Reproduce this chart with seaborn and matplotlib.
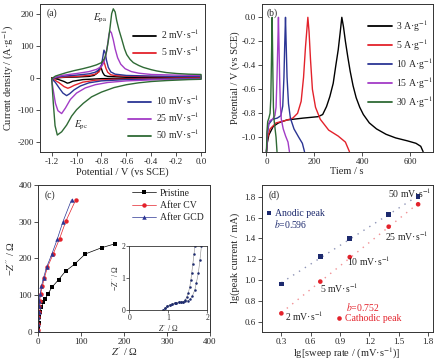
import numpy as np
import pandas as pd
import matplotlib
matplotlib.use("Agg")
import matplotlib.pyplot as plt
import seaborn as sns
from matplotlib.lines import Line2D

sns.set_style("ticks")
plt.rcParams['font.family'] = ['Liberation Serif', 'DejaVu Serif']
plt.rcParams['mathtext.fontset'] = 'stix'
plt.rcParams['axes.linewidth'] = 0.7
plt.rcParams['axes.edgecolor'] = '#333333'

# ---------------- (a) CV data ----------------
cv_rates = ["2 mV·s$^{-1}$", "5 mV·s$^{-1}$", "10 mV·s$^{-1}$", "25 mV·s$^{-1}$", "50 mV·s$^{-1}$"]
cv2_e = [-1.2, -1.1, -1.0, -0.9, -0.86, -0.835, -0.82, -0.81, -0.8, -0.79, -0.775, -0.75, -0.6, -0.3, 0.0,
         0.0, -0.5, -0.8, -0.95, -1.03, -1.06, -1.075, -1.1, -1.15, -1.2]
cv2_i = [-1, 1, 2, 4, 7, 14, 24, 32, 28, 16, 7, 4, 2, 2, 2,
         -1, -2, -3, -6, -11, -16, -17, -12, -5, -1]
cv5_e = [-1.2, -1.1, -1.0, -0.9, -0.85, -0.82, -0.805, -0.795, -0.788, -0.778, -0.765, -0.75, -0.725, -0.68, -0.5, -0.2, 0.0,
         0.0, -0.4, -0.7, -0.85, -0.95, -1.02, -1.05, -1.07, -1.1, -1.14, -1.2]
cv5_i = [-2, 2, 4, 7, 11, 18, 30, 45, 55, 48, 30, 17, 9, 6, 4, 3, 3,
         -2, -3, -5, -8, -14, -24, -30, -33, -28, -16, -2]
cv10_e = [-1.2, -1.15, -1.1, -1.0, -0.9, -0.85, -0.82, -0.8, -0.79, -0.78, -0.77, -0.76, -0.745, -0.725, -0.69, -0.6, -0.4, -0.2, 0.0,
          0.0, -0.3, -0.6, -0.8, -0.9, -0.97, -1.02, -1.055, -1.08, -1.11, -1.14, -1.17, -1.2]
cv10_i = [-3, 2, 5, 8, 12, 17, 25, 40, 62, 86, 78, 55, 32, 18, 11, 7, 5, 4, 4,
          -3, -4, -6, -10, -16, -26, -38, -50, -56, -48, -32, -15, -3]
cv25_e = [-1.2, -1.15, -1.1, -1.0, -0.9, -0.84, -0.8, -0.78, -0.765, -0.75, -0.74, -0.731, -0.72, -0.705, -0.69, -0.67, -0.645, -0.61, -0.56, -0.5, -0.4, -0.2, 0.0,
          0.0, -0.2, -0.4, -0.6, -0.75, -0.85, -0.93, -1.0, -1.05, -1.09, -1.12, -1.15, -1.17, -1.185, -1.195, -1.2]
cv25_i = [-3, 4, 8, 13, 19, 26, 35, 48, 70, 105, 135, 146, 140, 118, 90, 62, 42, 28, 19, 14, 10, 8, 7,
          -4, -5, -7, -10, -15, -22, -32, -48, -68, -95, -112, -103, -80, -45, -20, -3]
cv50_e = [-1.2, -1.17, -1.13, -1.08, -1.02, -0.95, -0.89, -0.84, -0.8, -0.775, -0.76, -0.745, -0.73, -0.718, -0.705, -0.69, -0.678, -0.66, -0.637, -0.615, -0.597, -0.57, -0.544, -0.5, -0.463, -0.4, -0.356, -0.28, -0.195, -0.1, 0.0,
          0.0, -0.1, -0.276, -0.4, -0.5, -0.6, -0.7, -0.8, -0.88, -0.946, -1.0, -1.04, -1.08, -1.12, -1.155, -1.173, -1.187, -1.2]
cv50_i = [-3, 5, 10, 16, 22, 28, 34, 40, 47, 60, 80, 115, 160, 200, 215, 205, 179, 150, 120, 90, 72, 57, 47, 38, 32, 25, 21, 16, 13, 11, 10,
          -5, -6, -9, -12, -16, -22, -31, -45, -60, -80, -100, -120, -148, -169, -179, -150, -80, -3]
cv_colors = ["#000000", "#e3222b", "#2b3594", "#a23cc6", "#2f6a35"]

# ---------------- (b) GCD data ----------------
gcd_labels = ["3 A·g$^{-1}$", "5 A·g$^{-1}$", "10 A·g$^{-1}$", "15 A·g$^{-1}$", "30 A·g$^{-1}$"]
gcd3_t = [0, 3, 10, 28, 50, 84, 153, 216, 235, 251, 265, 279, 290, 300, 308, 315,
          322, 330, 340, 350, 362, 375, 390, 405, 430, 460, 500, 540, 590, 625, 645, 655]
gcd3_v = [-1.12, -1.05, -0.98, -0.91, -0.88, -0.856, -0.84, -0.828, -0.81, -0.744, -0.66, -0.55, -0.4, -0.27, -0.13, 0.0,
          -0.08, -0.2, -0.33, -0.45, -0.57, -0.67, -0.75, -0.81, -0.88, -0.93, -0.975, -1.005, -1.03, -1.05, -1.075, -1.12]
gcd5_t = [0, 5, 15, 40, 80, 110, 130, 145, 155, 163, 173,
          178, 184, 192, 205, 225, 260, 300, 330, 347]
gcd5_v = [-1.12, -1.0, -0.93, -0.88, -0.86, -0.84, -0.80, -0.7, -0.5, -0.25, 0.0,
          -0.12, -0.35, -0.6, -0.75, -0.85, -0.94, -0.99, -1.04, -1.12]
gcd10_t = [0, 4, 10, 25, 45, 60, 68, 73, 76, 79.5,
           82, 86, 92, 100, 115, 135, 150, 159]
gcd10_v = [-1.12, -0.97, -0.89, -0.85, -0.84, -0.82, -0.74, -0.5, -0.25, 0.0,
           -0.2, -0.5, -0.72, -0.84, -0.93, -1.0, -1.05, -1.12]
gcd15_t = [0, 3, 8, 15, 25, 35, 40, 44, 47, 50,
           52, 55, 58, 62, 70, 80, 90, 96]
gcd15_v = [-1.12, -0.97, -0.89, -0.86, -0.85, -0.82, -0.75, -0.5, -0.25, 0.0,
           -0.2, -0.5, -0.73, -0.85, -0.93, -0.99, -1.04, -1.12]
gcd30_t = [0, 2, 5, 10, 15, 18, 20, 22, 23.7,
           25, 27, 29, 32, 36, 40, 44]
gcd30_v = [-1.12, -0.95, -0.87, -0.84, -0.8, -0.68, -0.45, -0.2, 0.0,
           -0.2, -0.5, -0.75, -0.86, -0.93, -1.0, -1.12]
gcd_colors = ["#000000", "#e3222b", "#2b3594", "#a23cc6", "#2f6a35"]

# ---------------- (c) EIS data ----------------
eis_labels = ["Pristine", "After CV", "After GCD"]
pr_zr = [0.5, 1, 2, 3, 5, 8, 12, 17, 23, 33, 48, 64, 85, 110, 148, 180]
pr_zi = [3, 12, 25, 40, 55, 68, 80, 90, 103, 122, 142, 165, 184, 212, 229, 240]
cv_zr = [0.3, 0.5, 1, 2, 3, 4, 6, 10, 15, 22, 35, 50, 65, 88]
cv_zi = [5, 20, 40, 55, 70, 85, 102, 124, 147, 176, 211, 253, 302, 360]
gc_zr = [0.3, 0.5, 1, 1.5, 2, 3, 5, 8, 13, 20, 32, 45, 58, 78]
gc_zi = [5, 20, 40, 55, 70, 85, 102, 124, 147, 176, 211, 253, 300, 360]
eis_colors = ["#000000", "#e3222b", "#2b3594"]
eis_markers = ["s", "o", "^"]
# inset
ins_a_zr = [0.87, 0.92, 0.97, 1.04, 1.1, 1.16, 1.21, 1.27, 1.32, 1.38, 1.43, 1.47, 1.51, 1.55, 1.58, 1.6, 1.63, 1.66, 1.68]
ins_a_zi = [0.0, 0.06, 0.11, 0.156, 0.19, 0.215, 0.23, 0.245, 0.25, 0.26, 0.3, 0.4, 0.52, 0.72, 0.95, 1.15, 1.45, 1.75, 2.0]
ins_b_zr = [0.87, 0.92, 0.97, 1.04, 1.1, 1.16, 1.21, 1.27, 1.32, 1.38, 1.44, 1.5, 1.56, 1.62, 1.68, 1.72, 1.77, 1.81, 1.85]
ins_b_zi = [0.0, 0.06, 0.11, 0.156, 0.19, 0.215, 0.23, 0.245, 0.25, 0.26, 0.27, 0.29, 0.33, 0.45, 0.625, 0.85, 1.15, 1.55, 2.0]

# ---------------- (d) log-log data ----------------
lg_rate = [0.301, 0.699, 1.0, 1.398, 1.699]
lg_anodic = [0.96, 1.225, 1.40, 1.63, 1.80]
lg_cathodic = [0.68, 0.985, 1.22, 1.512, 1.727]
rate_labels = ["2 mV·s$^{-1}$", "5 mV·s$^{-1}$", "10 mV·s$^{-1}$", "25 mV·s$^{-1}$", "50 mV·s$^{-1}$"]
b_anodic = "0.596"
b_cathodic = "0.752"
navy = "#1d2a6e"
red = "#e3222b"

FS_T = 6.5
FS_L = 7.5
FS_LEG = 7

fig = plt.figure(figsize=(4.4, 3.6), dpi=100)
axA = fig.add_axes([40/440, 1-152/360, 165/440, 148/360])
axB = fig.add_axes([261.7/440, 1-152/360, 171/440, 148/360])
axC = fig.add_axes([38/440, 1-331.7/360, 172/440, 146.7/360])
axD = fig.add_axes([261.7/440, 1-331.7/360, 171/440, 146.7/360])


def style(ax):
    ax.tick_params(direction='out', length=3, width=0.6, labelsize=FS_T, pad=1.2, color='#333333')
    for s in ax.spines.values():
        s.set_visible(True)
        s.set_linewidth(0.7)


# ---- (a)
rows = []
for lab, e, i in zip(cv_rates, [cv2_e, cv5_e, cv10_e, cv25_e, cv50_e], [cv2_i, cv5_i, cv10_i, cv25_i, cv50_i]):
    for k, (ee, ii) in enumerate(zip(e, i)):
        rows.append((lab, k, ee, ii))
dfa = pd.DataFrame(rows, columns=["rate", "k", "E", "I"])
sns.lineplot(data=dfa, x="E", y="I", hue="rate", units="rate", estimator=None, sort=False,
             palette=dict(zip(cv_rates, cv_colors)), hue_order=cv_rates, lw=1.0, ax=axA)
axA.get_legend().remove()
hd = {lab: Line2D([], [], color=c, lw=1.3) for lab, c in zip(cv_rates, cv_colors)}
leg1 = axA.legend([hd[x] for x in cv_rates[:2]], cv_rates[:2], loc='upper left', bbox_to_anchor=(0.564, 0.84),
                  frameon=False, fontsize=FS_LEG, borderpad=0, borderaxespad=0, handlelength=2.4,
                  handletextpad=0.5, labelspacing=0.35)
axA.add_artist(leg1)
axA.legend([hd[x] for x in cv_rates[2:]], cv_rates[2:], loc='upper left', bbox_to_anchor=(0.533, 0.393),
           frameon=False, fontsize=FS_LEG, borderpad=0, borderaxespad=0, handlelength=2.4,
           handletextpad=0.5, labelspacing=0.35)
axA.set_xlim(-1.294, 0.032)
axA.set_ylim(-232, 230)
axA.set_xticks([-1.2, -1.0, -0.8, -0.6, -0.4, -0.2, 0.0])
axA.set_xticklabels(["-1.2", "-1.0", "-0.8", "-0.6", "-0.4", "-0.2", "0.0"])
axA.set_yticks([-200, -100, 0, 100, 200])
axA.set_yticklabels(["-200", "-100", "0", "100", "200"])
axA.set_xlabel("Potential / V (vs SCE)", fontsize=FS_L, labelpad=1)
axA.set_ylabel("Current density / (A·g$^{-1}$)", fontsize=FS_L, labelpad=1)
axA.text(0.042, 0.937, "(a)", transform=axA.transAxes, fontsize=FS_LEG, va='center')
axA.text(-0.865, 185, r"$E_{\rm pa}$", fontsize=FS_LEG, va='center')
axA.text(-1.02, -150, r"$E_{\rm pc}$", fontsize=FS_LEG, va='center')
style(axA)

# ---- (b)
rows = []
for lab, t, v in zip(gcd_labels, [gcd3_t, gcd5_t, gcd10_t, gcd15_t, gcd30_t], [gcd3_v, gcd5_v, gcd10_v, gcd15_v, gcd30_v]):
    for k, (tt, vv) in enumerate(zip(t, v)):
        rows.append((lab, k, tt, vv))
dfb = pd.DataFrame(rows, columns=["cur", "k", "t", "V"])
sns.lineplot(data=dfb, x="t", y="V", hue="cur", units="cur", estimator=None, sort=False,
             palette=dict(zip(gcd_labels, gcd_colors)), hue_order=gcd_labels, lw=1.0, ax=axB)
axB.get_legend().remove()
axB.legend([Line2D([], [], color=c, lw=1.3) for c in gcd_colors], gcd_labels, loc='upper left',
           bbox_to_anchor=(0.619, 0.905), frameon=False, fontsize=FS_LEG, borderpad=0, borderaxespad=0,
           handlelength=2.5, handletextpad=0.4, labelspacing=0.35)
axB.set_xlim(-20, 695)
axB.set_ylim(-1.1225, 0.111)
axB.set_xticks([0, 200, 400, 600])
axB.set_yticks([0.0, -0.2, -0.4, -0.6, -0.8, -1.0])
axB.set_yticklabels(["0.0", "-0.2", "-0.4", "-0.6", "-0.8", "-1.0"])
axB.set_xlabel("Tiem / s", fontsize=FS_L, labelpad=1)
axB.set_ylabel("Potential / V (vs SCE)", fontsize=FS_L, labelpad=1)
axB.text(0.03, 0.937, "(b)", transform=axB.transAxes, fontsize=FS_LEG, va='center')
style(axB)

# ---- (c)
rows = []
for lab, zr, zi in zip(eis_labels, [pr_zr, cv_zr, gc_zr], [pr_zi, cv_zi, gc_zi]):
    for k, (a, b) in enumerate(zip(zr, zi)):
        rows.append((lab, k, a, b))
dfc = pd.DataFrame(rows, columns=["s", "k", "Zr", "Zi"])
for lab, c, m in zip(eis_labels, eis_colors, eis_markers):
    sub = dfc[dfc.s == lab]
    sns.lineplot(data=sub, x="Zr", y="Zi", sort=False, estimator=None, color=c, lw=0.5,
                 marker=m, markersize=3.2, markeredgewidth=0, ax=axC)
axC.legend([Line2D([], [], color=c, lw=0.5, marker=m, markersize=3.2, markeredgewidth=0)
            for c, m in zip(eis_colors, eis_markers)], eis_labels, loc='upper left',
           bbox_to_anchor=(0.545, 0.976), frameon=False, fontsize=FS_LEG, borderpad=0, borderaxespad=0,
           handlelength=2.5, handletextpad=0.4, labelspacing=0.35)
axC.set_xlim(0, 400)
axC.set_ylim(0, 400)
axC.set_xticks([0, 100, 200, 300, 400])
axC.set_yticks([0, 100, 200, 300, 400])
axC.set_xlabel("$Z'$ / Ω", fontsize=FS_L, labelpad=0)
axC.set_ylabel("−$Z''$ / Ω", fontsize=FS_L, labelpad=1)
axC.text(0.04, 0.932, "(c)", transform=axC.transAxes, fontsize=FS_LEG, va='center')
style(axC)

axI = fig.add_axes([129.3/440, 1-310/360, 78/440, 64/360])
for zr, zi in [(ins_a_zr, ins_a_zi), (ins_b_zr, ins_b_zi)]:
    sns.lineplot(x=zr, y=zi, sort=False, estimator=None, color="#888888", lw=0.4,
                 marker='o', markersize=1.8, markerfacecolor=navy, markeredgewidth=0, ax=axI)
axI.set_xlim(0, 2)
axI.set_ylim(0, 2)
axI.set_xticks([0, 1, 2])
axI.set_yticks([0, 1, 2])
axI.tick_params(direction='out', length=2, width=0.5, labelsize=5.5, pad=1)
axI.set_xlabel("$Z'$ / Ω", fontsize=5.5, labelpad=0)
axI.set_ylabel("−$Z''$ / Ω", fontsize=5.5, labelpad=0)
for s in axI.spines.values():
    s.set_linewidth(0.6)

# ---- (d)
dfd = pd.DataFrame({"x": lg_rate * 2, "y": lg_anodic + lg_cathodic,
                    "peak": ["Anodic peak"] * 5 + ["Cathodic peak"] * 5})
for pk, ys, c in [("Anodic peak", lg_anodic, navy), ("Cathodic peak", lg_cathodic, red)]:
    coef = np.polyfit(lg_rate, ys, 1)
    xs = np.array([min(lg_rate), max(lg_rate)])
    sns.lineplot(x=xs, y=np.polyval(coef, xs), color=c, alpha=0.5, lw=1.0,
                 linestyle=(0, (1, 4)), ax=axD)
sns.scatterplot(data=dfd, x="x", y="y", hue="peak", style="peak",
                palette={"Anodic peak": navy, "Cathodic peak": red},
                markers={"Anodic peak": "s", "Cathodic peak": "o"}, s=11, linewidth=0, ax=axD, legend=False, zorder=3)
axD.scatter([0.171], [1.64], marker='s', s=11, color=navy, linewidths=0)
axD.text(0.235, 1.64, "Anodic peak", color=navy, fontsize=FS_LEG, va='center')
axD.text(0.225, 1.535, r"$b$=" + b_anodic, color=navy, fontsize=FS_LEG, va='center')
axD.scatter([0.891], [0.633], marker='o', s=11, color=red, linewidths=0)
axD.text(0.955, 0.633, "Cathodic peak", color=red, fontsize=FS_LEG, va='center')
axD.text(0.962, 0.741, r"$b$=" + b_cathodic, color=red, fontsize=FS_LEG, va='center')
ann_pos = [(0.341, 0.655), (0.697, 0.92), (0.969, 1.176), (1.359, 1.416), (1.393, 1.833)]
for lab, (x, y) in zip(rate_labels, ann_pos):
    axD.text(x, y, lab, fontsize=FS_LEG, va='center')
axD.set_xlim(0.1, 1.848)
axD.set_ylim(0.504, 1.912)
axD.set_xticks([0.3, 0.6, 0.9, 1.2, 1.5, 1.8])
axD.set_yticks([0.6, 0.8, 1.0, 1.2, 1.4, 1.6, 1.8])
axD.set_xlabel("lg[sweep rate / (mV·s$^{-1}$)]", fontsize=FS_L, labelpad=0)
axD.set_ylabel("lg(peak current / mA)", fontsize=FS_L, labelpad=3)
axD.text(0.04, 0.932, "(d)", transform=axD.transAxes, fontsize=FS_LEG, va='center')
style(axD)

fig.savefig("out.png", dpi=100)
